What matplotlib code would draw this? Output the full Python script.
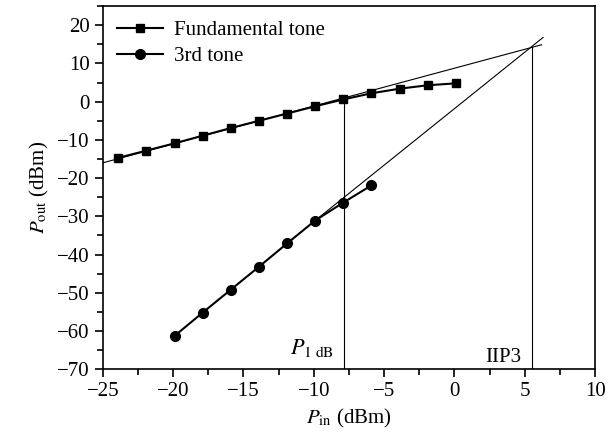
import matplotlib.pyplot as plt
from matplotlib.ticker import MultipleLocator

plt.rcParams['font.family'] = ['Liberation Serif', 'DejaVu Serif']
plt.rcParams['mathtext.fontset'] = 'stix'

# Fundamental tone
fund_x = [-23.9, -21.9, -19.9, -17.9, -15.9, -13.9, -11.9, -9.9, -7.9, -5.9, -3.9, -1.9, 0.1]
fund_y = [-14.7, -12.8, -10.9, -8.9, -6.9, -5.0, -3.1, -1.2, 0.6, 2.2, 3.4, 4.3, 4.8]

# 3rd-order tone
third_x = [-19.9, -17.9, -15.9, -13.9, -11.9, -9.9, -7.9, -5.9]
third_y = [-61.3, -55.2, -49.2, -43.2, -37.1, -31.1, -26.4, -21.9]

# extrapolated lines
fund_ext_x = [-25, 6.2]
fund_ext_y = [-16.0, 14.9]
third_ext_x = [-9.9, 6.3]
third_ext_y = [-31.1, 16.8]

p1db_x = -7.85
p1db_y = 0.6
iip3_x = 5.5
iip3_y = 14.4

fig, ax = plt.subplots(figsize=(6.16, 4.41), dpi=100)
fig.subplots_adjust(left=0.167, right=0.966, top=0.986, bottom=0.163)

ax.plot(fund_ext_x, fund_ext_y, 'k-', lw=0.8)
ax.plot(third_ext_x, third_ext_y, 'k-', lw=0.8)
ax.plot([p1db_x, p1db_x], [-70, p1db_y], 'k-', lw=0.8)
ax.plot([iip3_x, iip3_x], [-70, iip3_y], 'k-', lw=0.8)

ax.plot(fund_x, fund_y, 'k-', marker='s', ms=6, lw=1.5, label='Fundamental tone')
ax.plot(third_x, third_y, 'k-', marker='o', ms=7, lw=1.5, label='3rd tone')

ax.text(-11.7, -64.5, r'$P_{\rm 1\ dB}$', fontsize=16, ha='left', va='center')
ax.text(4.75, -67, 'IIP3', fontsize=15, ha='right', va='center')

ax.set_xlim(-25, 10)
ax.set_ylim(-70, 25)
ax.xaxis.set_major_locator(MultipleLocator(5))
ax.xaxis.set_minor_locator(MultipleLocator(2.5))
ax.yaxis.set_major_locator(MultipleLocator(10))
ax.yaxis.set_minor_locator(MultipleLocator(5))
ax.tick_params(which='both', direction='out', top=False, right=False, labelsize=15, width=1.2)
ax.tick_params(which='major', length=6)
ax.tick_params(which='minor', length=4)
for s in ax.spines.values():
    s.set_linewidth(1.2)

ax.set_xlabel(r'$P_{\rm in}$ (dBm)', fontsize=15)
ax.set_ylabel(r'$P_{\rm out}$ (dBm)', fontsize=15)

ax.legend(loc='upper left', frameon=False, fontsize=15, handlelength=2.2,
          borderaxespad=0.3, handletextpad=0.5, labelspacing=0.3)

plt.savefig('out.png')
